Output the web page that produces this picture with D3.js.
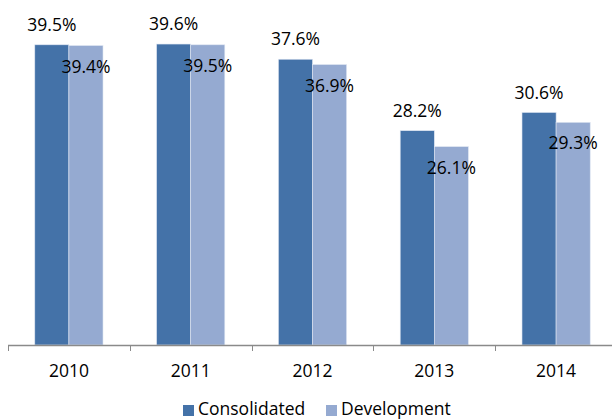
<!DOCTYPE html>
<html>
<head>
<meta charset="utf-8">
<script src="https://cdn.jsdelivr.net/npm/d3@7"></script>
<style>
  html, body { margin: 0; padding: 0; background: #fff; }
  svg { display: block; }
  text { font-family: "Open Sans", "Liberation Sans", sans-serif; fill: #000; }
</style>
</head>
<body>
<svg id="chart" width="612" height="420"></svg>
<script>
// Yearly ratios (%) for the two reporting scopes
const years = ["2010", "2011", "2012", "2013", "2014"];
const consolidated = [39.5, 39.6, 37.6, 28.2, 30.6];
const development = [39.4, 39.5, 36.9, 26.1, 29.3];
const seriesNames = ["Consolidated", "Development"];
const seriesColors = ["#4472A8", "#95AAD1"];

const svg = d3.select("#chart");
const W = 612, H = 420;
const plot = { left: 8, right: 617, top: 3, bottom: 345 };

const x = d3.scaleBand().domain(years).range([plot.left, plot.right]).paddingInner(0).paddingOuter(0);
// the pair of bars sits centred in each category with a wide gap around it
const gap = x.bandwidth() * 0.22;
const inner = d3.scaleBand().domain(seriesNames).range([gap, x.bandwidth() - gap]).padding(0);
const y = d3.scaleLinear().domain([0, 45]).range([plot.bottom, plot.top]);

const rows = years.map((yr, i) => ({ year: yr, values: [consolidated[i], development[i]] }));

const groups = svg.append("g").selectAll("g")
  .data(rows).join("g")
  .attr("transform", d => `translate(${x(d.year)},0)`);

groups.selectAll("rect")
  .data(d => d.values.map((v, k) => ({ v, k })))
  .join("rect")
  .attr("x", d => inner(seriesNames[d.k]))
  .attr("width", inner.bandwidth())
  .attr("y", d => y(d.v))
  .attr("height", d => y(0) - y(d.v))
  .attr("fill", d => seriesColors[d.k])
  .attr("stroke", "#dfe6f2")
  .attr("stroke-width", 0.6);

// value labels: first series above the bar, second series just inside its top
groups.selectAll("text.val")
  .data(d => d.values.map((v, k) => ({ v, k })))
  .join("text")
  .attr("class", "val")
  .attr("x", d => inner(seriesNames[d.k]) + inner.bandwidth() / 2)
  .attr("y", d => y(d.v) + (d.k === 0 ? -20 : 21))
  .attr("dy", "0.35em")
  .attr("text-anchor", "middle")
  .style("font-size", "17.5px")
  .text(d => d.v.toFixed(1) + "%");

// category axis
const axis = d3.axisBottom(x).tickSize(0).tickPadding(0);
const ax = svg.append("g").attr("transform", `translate(0,${plot.bottom})`).call(axis);
ax.select(".domain").remove();
ax.selectAll(".tick text")
  .attr("y", 26)
  .attr("dy", "0.35em")
  .style("font-size", "17.5px")
  .style("font-family", "'Open Sans', 'Liberation Sans', sans-serif")
  .attr("fill", "#000");

svg.append("line")
  .attr("x1", plot.left).attr("x2", W)
  .attr("y1", plot.bottom + 0.5).attr("y2", plot.bottom + 0.5)
  .attr("stroke", "#8a8a8a").attr("stroke-width", 1.5);

// tick marks at band boundaries
const boundaries = years.map(d => x(d));
svg.append("g").selectAll("line")
  .data(boundaries).join("line")
  .attr("x1", d => Math.round(d) + 0.5).attr("x2", d => Math.round(d) + 0.5)
  .attr("y1", plot.bottom).attr("y2", plot.bottom + 6)
  .attr("stroke", "#8a8a8a").attr("stroke-width", 1);

// legend
const legendX = [183, 326];
const legend = svg.append("g").selectAll("g")
  .data(seriesNames).join("g")
  .attr("transform", (d, i) => `translate(${legendX[i]},405)`);
legend.append("rect")
  .attr("width", 11).attr("height", 11)
  .attr("fill", (d, i) => seriesColors[i]);
legend.append("text")
  .attr("x", 15).attr("y", 4)
  .attr("dy", "0.35em")
  .style("font-size", "17.5px")
  .text(d => d);
</script>
</body>
</html>
